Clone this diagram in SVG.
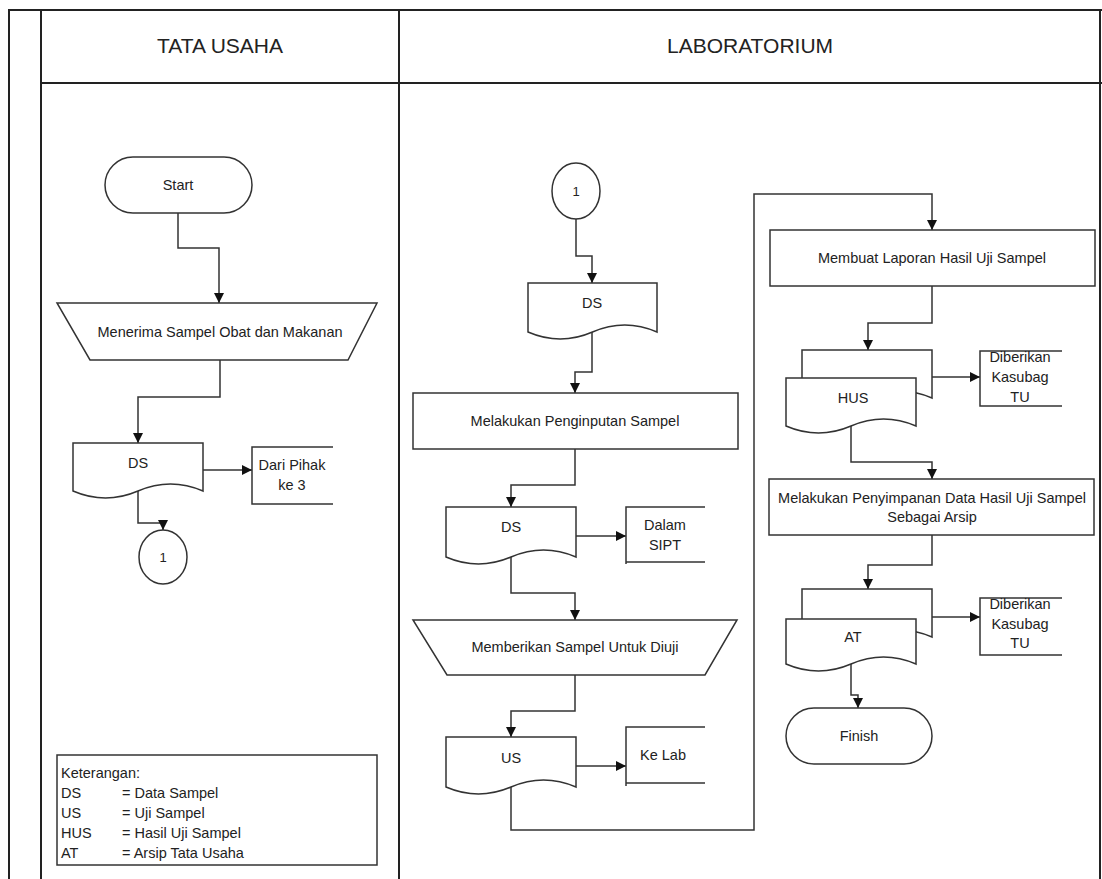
<svg xmlns="http://www.w3.org/2000/svg" width="1102" height="879" viewBox="0 0 1102 879">
<style>
.frame{fill:none;stroke:#222;stroke-width:2}
.shape{fill:#fff;stroke:#333;stroke-width:1.5}
.open{fill:none;stroke:#333;stroke-width:1.5}
.conn{fill:none;stroke:#333;stroke-width:1.5}
text{font-family:"Liberation Sans",Arial,sans-serif;fill:#222;font-size:14.5px}
.c{text-anchor:middle}
.hdr{font-size:21px}
.sm{font-size:13px}
</style>
<defs>
<marker id="ah" viewBox="0 0 10 10" refX="10" refY="5" markerWidth="10" markerHeight="10" markerUnits="userSpaceOnUse" orient="auto">
<path d="M0,0 L10,5 L0,10 Z" fill="#111"/>
</marker>
</defs>
<rect width="1102" height="879" fill="#fff"/>
<g id="frame">
<path class="frame" d="M9,879 V10 H1102 M41,10 V879 M399,10 V879 M1100,10 V879 M41,83 H1102"/>
<text class="c hdr" x="220" y="53">TATA USAHA</text>
<text class="c hdr" x="750" y="53">LABORATORIUM</text>
</g>
<g id="connectors">
<path class="conn" marker-end="url(#ah)" d="M178,213 V248 H219 V303"/>
<path class="conn" marker-end="url(#ah)" d="M220,360 V397 H138 V443"/>
<path class="conn" marker-end="url(#ah)" d="M203,470 H252"/>
<path class="conn" marker-end="url(#ah)" d="M138,491 V523 H163 V530"/>
<path class="conn" marker-end="url(#ah)" d="M576,219 V256 H592 V283"/>
<path class="conn" marker-end="url(#ah)" d="M592,332 V372 H575 V393"/>
<path class="conn" marker-end="url(#ah)" d="M575,449 V485 H511 V507"/>
<path class="conn" marker-end="url(#ah)" d="M576,536 H626"/>
<path class="conn" marker-end="url(#ah)" d="M511,557 V593 H575 V620"/>
<path class="conn" marker-end="url(#ah)" d="M575,675 V711 H511 V737"/>
<path class="conn" marker-end="url(#ah)" d="M576,766 H626"/>
<path class="conn" marker-end="url(#ah)" d="M511,787 V830 H754 V194 H932 V230"/>
<path class="conn" marker-end="url(#ah)" d="M932,286 V323 H868 V350"/>
<path class="conn" marker-end="url(#ah)" d="M932,377 H980"/>
<path class="conn" marker-end="url(#ah)" d="M851,426 V462 H932 V479"/>
<path class="conn" marker-end="url(#ah)" d="M932,535 V565 H868 V589"/>
<path class="conn" marker-end="url(#ah)" d="M932,617 H980"/>
<path class="conn" marker-end="url(#ah)" d="M851,664 V695 H858 V708"/>
</g>
<g id="start">
<rect class="shape" x="105" y="157" width="147" height="56" rx="28"/>
<text class="c" x="178" y="190">Start</text>
</g>
<g id="menerima">
<path class="shape" d="M57,303 H377 L348,360 H90 Z"/>
<text class="c" x="220" y="337">Menerima Sampel Obat dan Makanan</text>
</g>
<g id="ds-tu">
<path class="shape" d="M73,491 V443 H203 V491 Q170.5,477 138,491 T73,491 Z"/>
<text class="c" x="138" y="468">DS</text>
</g>
<g id="dari-pihak">
<path class="open" d="M333,447 H252 V504 H333"/>
<text class="c" x="292" y="470">Dari Pihak</text>
<text class="c" x="292" y="490">ke 3</text>
</g>
<g id="conn1-tu">
<ellipse class="shape" cx="163" cy="557" rx="24" ry="27"/>
<text class="c sm" x="163" y="562">1</text>
</g>
<g id="legend">
<rect class="shape" x="57" y="755" width="320" height="110"/>
<text x="61" y="778">Keterangan:</text>
<text x="61" y="798">DS</text><text x="122" y="798">= Data Sampel</text>
<text x="61" y="818">US</text><text x="122" y="818">= Uji Sampel</text>
<text x="61" y="838">HUS</text><text x="122" y="838">= Hasil Uji Sampel</text>
<text x="61" y="858">AT</text><text x="122" y="858">= Arsip Tata Usaha</text>
</g>
<g id="conn1-lab">
<ellipse class="shape" cx="576" cy="191" rx="24" ry="28"/>
<text class="c sm" x="576" y="196">1</text>
</g>
<g id="ds-lab1">
<path class="shape" d="M528,332 V283 H657 V332 Q624.75,318 592.5,332 T528,332 Z"/>
<text class="c" x="592" y="308">DS</text>
</g>
<g id="penginputan">
<rect class="shape" x="413" y="393" width="325" height="56"/>
<text class="c" x="575" y="426">Melakukan Penginputan Sampel</text>
</g>
<g id="ds-lab2">
<path class="shape" d="M446,557 V507 H576 V557 Q543.5,543 511,557 T446,557 Z"/>
<text class="c" x="511" y="532">DS</text>
</g>
<g id="dalam-sipt">
<path class="open" d="M705,507 H626 V564 M626,562 H705"/>
<text class="c" x="665" y="530">Dalam</text>
<text class="c" x="665" y="550">SIPT</text>
</g>
<g id="memberikan">
<path class="shape" d="M413,620 H737 L705,675 H447 Z"/>
<text class="c" x="575" y="652">Memberikan Sampel Untuk Diuji</text>
</g>
<g id="us">
<path class="shape" d="M446,787 V737 H576 V787 Q543.5,773 511,787 T446,787 Z"/>
<text class="c" x="511" y="763">US</text>
</g>
<g id="ke-lab">
<path class="open" d="M705,727 H626 V786 M626,783 H705"/>
<text class="c" x="663" y="760">Ke Lab</text>
</g>
<g id="membuat">
<rect class="shape" x="770" y="230" width="325" height="56"/>
<text class="c" x="932" y="263">Membuat Laporan Hasil Uji Sampel</text>
</g>
<g id="hus">
<path class="shape" d="M802,398 V350 H932 V398 Q899.5,384 867,398 T802,398 Z"/>
<path class="shape" d="M786,426 V378 H916 V426 Q883.5,412 851,426 T786,426 Z"/>
<text class="c" x="853" y="403">HUS</text>
</g>
<g id="diberikan1">
<path class="open" d="M1062,351 H980 V406 H1062"/>
<text class="c" x="1020" y="362">Diberikan</text>
<text class="c" x="1020" y="382">Kasubag</text>
<text class="c" x="1020" y="402">TU</text>
</g>
<g id="penyimpanan">
<rect class="shape" x="769" y="479" width="325" height="56"/>
<text class="c" x="932" y="503">Melakukan Penyimpanan Data Hasil Uji Sampel</text>
<text class="c" x="932" y="522">Sebagai Arsip</text>
</g>
<g id="at">
<path class="shape" d="M802,637 V589 H932 V637 Q899.5,623 867,637 T802,637 Z"/>
<path class="shape" d="M786,664 V619 H916 V664 Q883.5,650 851,664 T786,664 Z"/>
<text class="c" x="853" y="642">AT</text>
</g>
<g id="diberikan2">
<path class="open" d="M1062,598 H980 V655 H1062"/>
<text class="c" x="1020" y="609">Diberikan</text>
<text class="c" x="1020" y="629">Kasubag</text>
<text class="c" x="1020" y="648">TU</text>
</g>
<g id="finish">
<rect class="shape" x="786" y="708" width="146" height="56" rx="28"/>
<text class="c" x="859" y="741">Finish</text>
</g>
</svg>
